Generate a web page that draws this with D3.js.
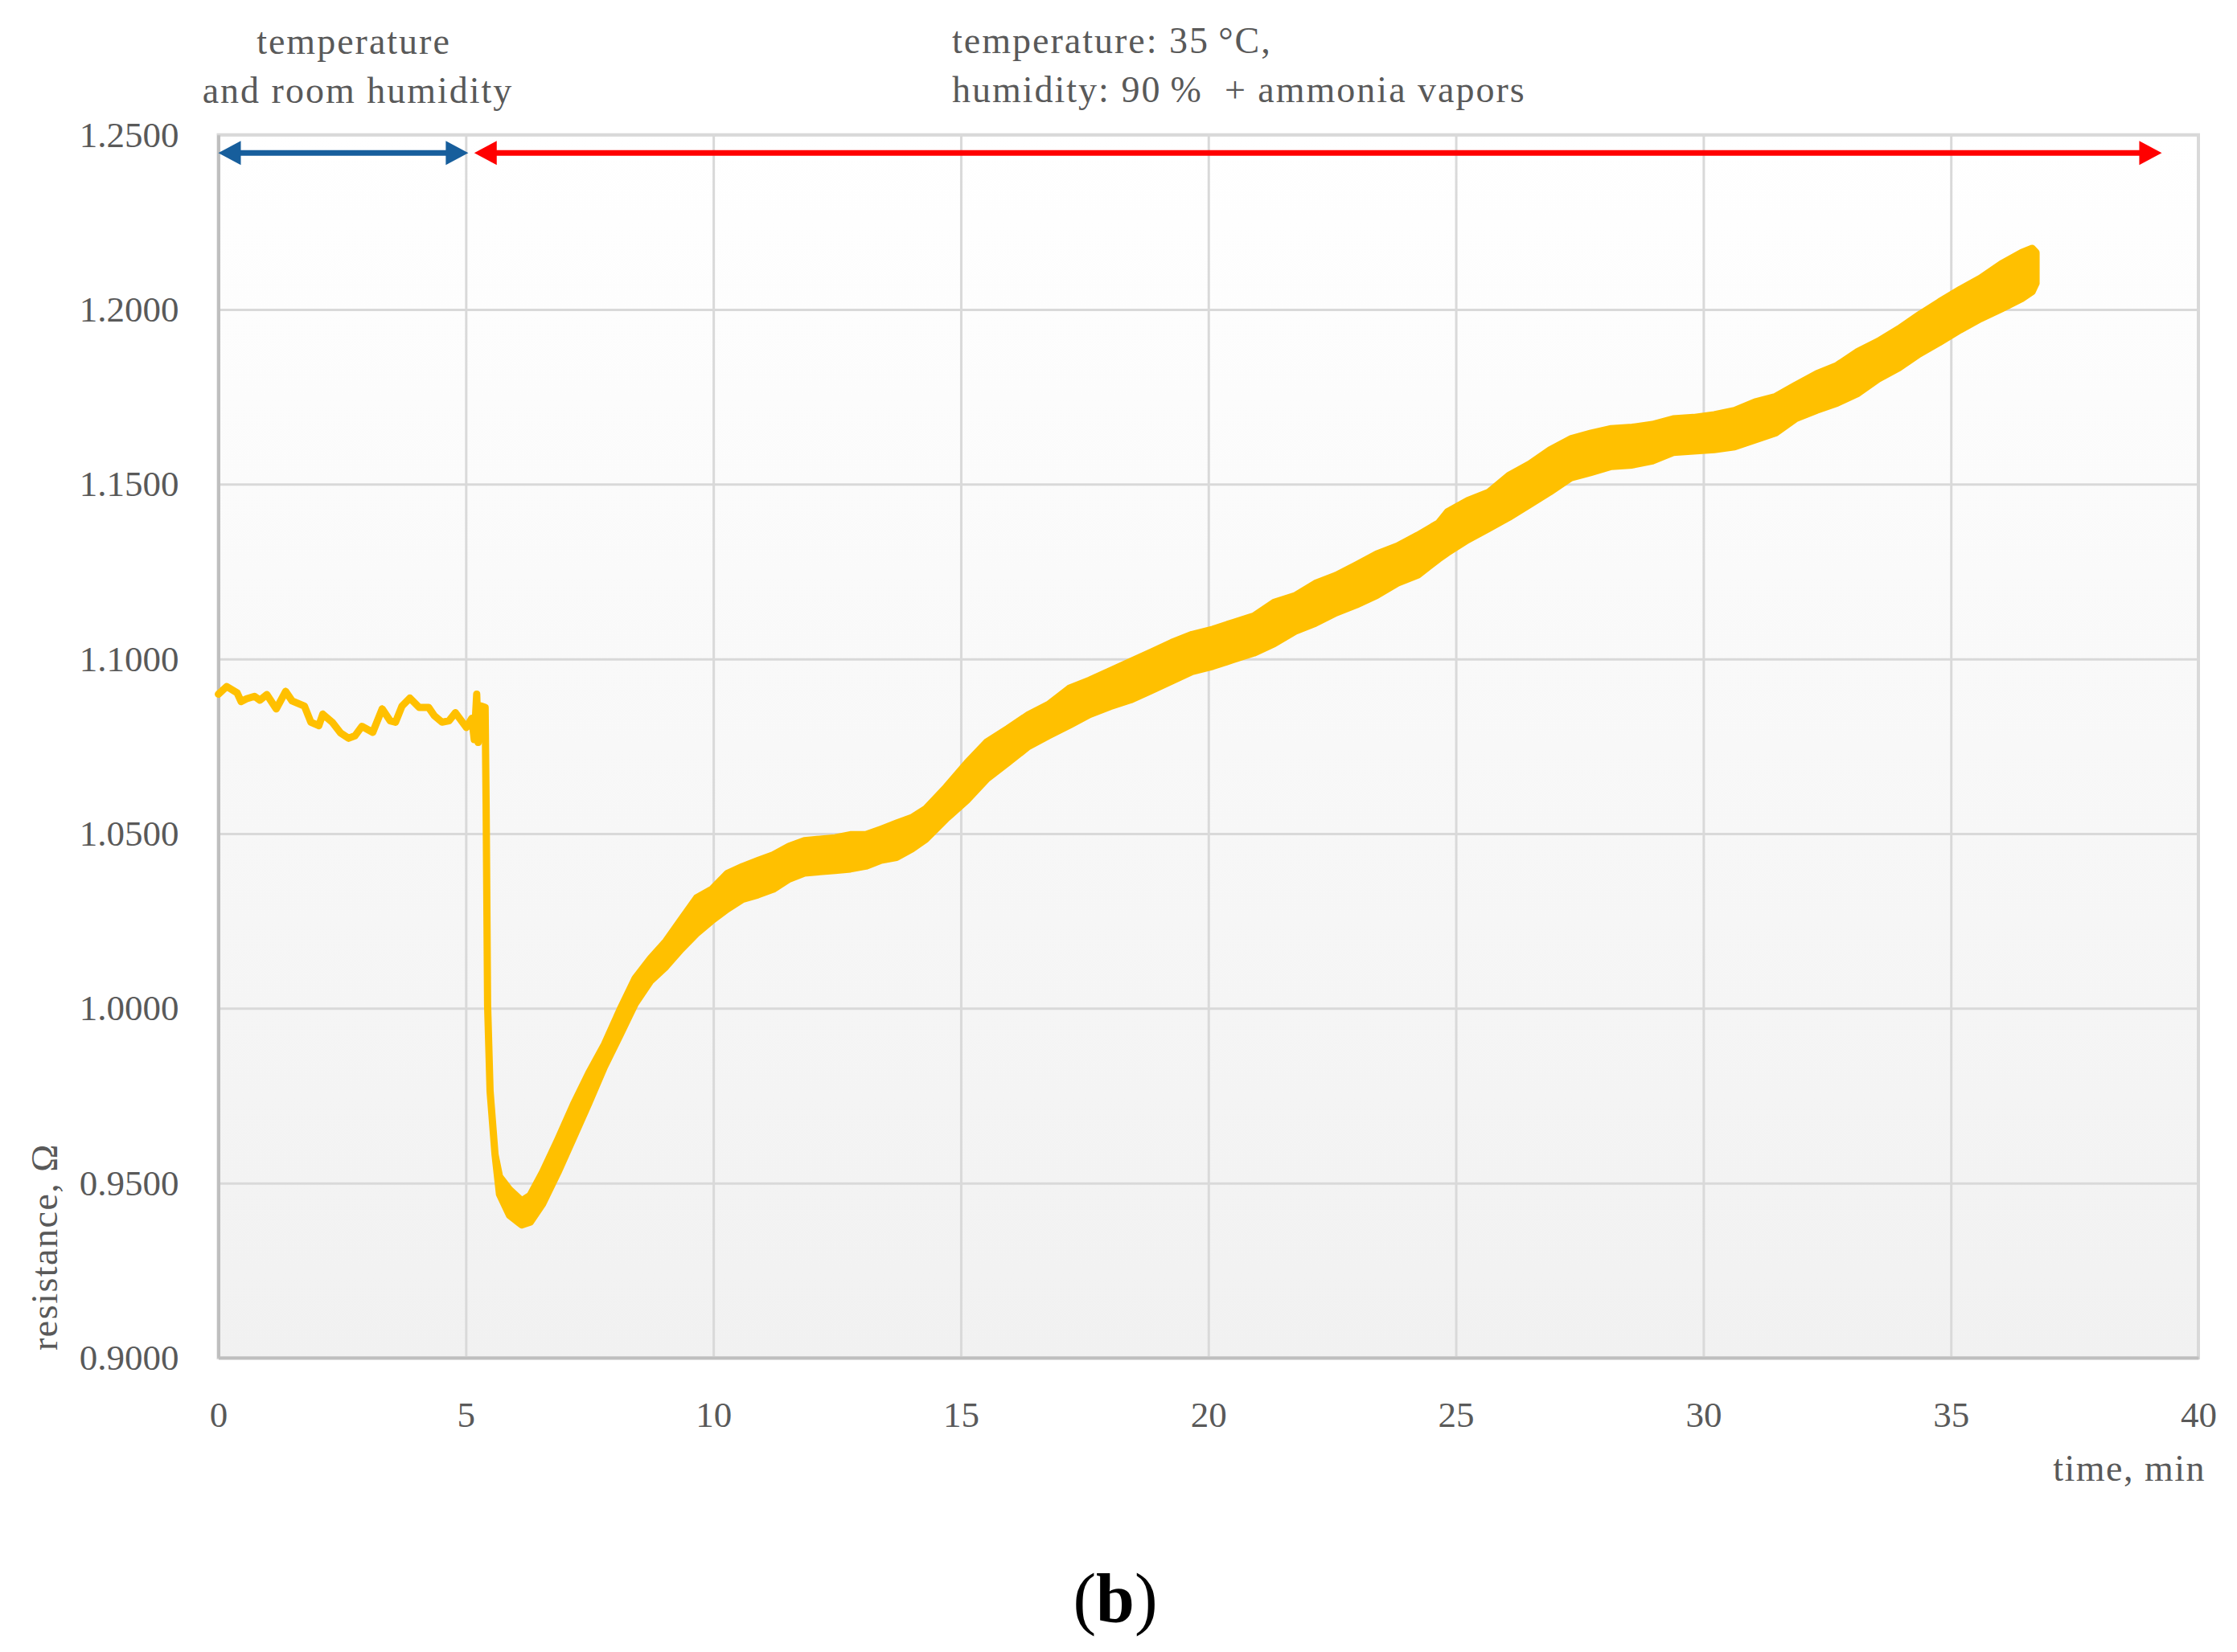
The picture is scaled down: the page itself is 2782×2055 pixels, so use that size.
<!DOCTYPE html>
<html>
<head>
<meta charset="utf-8">
<script src="https://cdn.jsdelivr.net/npm/d3@7/dist/d3.min.js"></script>
<style>
  body { margin: 0; background: #fff; }
  svg text { font-family: "Liberation Serif", "Times New Roman", serif; fill: #595959; }
</style>
</head>
<body>
<div id="chart"></div>
<script>
// axis ticks
const xTicks = [0, 5, 10, 15, 20, 25, 30, 35, 40];
const yTicks = [0.90, 0.95, 1.00, 1.05, 1.10, 1.15, 1.20, 1.25];

// resistance trace: time (min), lower and upper edge of the noisy band (ohm)
const timeMin = [
  0.00, 0.17, 0.38, 0.46, 0.57, 0.73, 0.84, 0.98, 1.17, 1.36, 1.49, 1.74, 1.87, 2.03, 2.11, 2.30,
  2.47, 2.63, 2.76, 2.90, 3.12, 3.31, 3.47, 3.58, 3.71, 3.87, 4.06, 4.25, 4.36, 4.52, 4.66, 4.79,
  5.01, 5.12, 5.17, 5.22, 5.25, 5.31, 5.39, 5.41, 5.44, 5.49, 5.59,
  5.68, 5.88, 6.13, 6.30, 6.55, 6.86, 7.17, 7.48, 7.80, 8.11, 8.42, 8.73, 9.04, 9.35, 9.66, 9.97,
  10.28, 10.59, 10.90, 11.21, 11.53, 11.84, 12.15, 12.46, 12.77, 13.08, 13.39, 13.70, 14.01, 14.29,
  14.70, 15.12, 15.53, 15.95, 16.36, 16.77, 17.19, 17.60, 18.02, 18.43, 18.85, 19.26, 19.67, 20.09,
  20.50, 20.92, 21.33, 21.75, 22.16, 22.58, 22.99, 23.40, 23.82, 24.23, 24.65, 24.83, 25.24, 25.66,
  26.07, 26.49, 26.90, 27.32, 27.73, 28.14, 28.56, 28.97, 29.39, 29.80, 30.22, 30.63, 31.04, 31.46,
  31.87, 32.29, 32.70, 33.12, 33.53, 33.95, 34.36, 34.77, 35.19, 35.60, 36.02, 36.43, 36.64, 36.72
];
const resLow = [
  1.0899, 1.0921, 1.0903, 1.0878, 1.0886, 1.0893, 1.0882, 1.0898, 1.0857, 1.0907, 1.0880, 1.0865, 1.0819, 1.0809, 1.0842, 1.0819,
  1.0788, 1.0773, 1.0780, 1.0807, 1.0790, 1.0857, 1.0823, 1.0819, 1.0865, 1.0888, 1.0861, 1.0861, 1.0838, 1.0819, 1.0823, 1.0846,
  1.0804, 1.0830, 1.0769, 1.0899, 1.0761, 1.0865, 1.0861, 1.0585, 1.0009, 0.9763, 0.9582,
  0.9468, 0.9408, 0.9380, 0.9388, 0.9440, 0.9530, 0.9628, 0.9727, 0.9833, 0.9922, 1.0013, 1.0078, 1.0119, 1.0169, 1.0214, 1.0251,
  1.0284, 1.0312, 1.0325, 1.0341, 1.0370, 1.0387, 1.0391, 1.0395, 1.0399, 1.0407, 1.0424, 1.0432, 1.0456, 1.0484,
  1.0542, 1.0595, 1.0657, 1.0703, 1.0749, 1.0780, 1.0810, 1.0841, 1.0864, 1.0883, 1.0910, 1.0937, 1.0964, 1.0979,
  1.0998, 1.1017, 1.1044, 1.1079, 1.1102, 1.1132, 1.1155, 1.1182, 1.1217, 1.1240, 1.1286, 1.1304, 1.1341, 1.1373,
  1.1405, 1.1442, 1.1478, 1.1518, 1.1534, 1.1551, 1.1555, 1.1567, 1.1591, 1.1595, 1.1599, 1.1607, 1.1627, 1.1647,
  1.1688, 1.1712, 1.1732, 1.1760, 1.1801, 1.1833, 1.1873, 1.1906, 1.1942, 1.1974, 1.2002, 1.2031, 1.2051, 1.2075
];
const resHigh = [
  1.0899, 1.0921, 1.0903, 1.0878, 1.0886, 1.0893, 1.0882, 1.0898, 1.0857, 1.0907, 1.0880, 1.0865, 1.0819, 1.0809, 1.0842, 1.0819,
  1.0788, 1.0773, 1.0780, 1.0807, 1.0790, 1.0857, 1.0823, 1.0819, 1.0865, 1.0888, 1.0861, 1.0861, 1.0838, 1.0819, 1.0823, 1.0846,
  1.0804, 1.0830, 1.0769, 1.0899, 1.0761, 1.0865, 1.0861, 1.0585, 1.0009, 0.9763, 0.9582,
  0.9519, 0.9482, 0.9449, 0.9465, 0.9531, 0.9625, 0.9724, 0.9814, 0.9897, 0.9995, 1.0086, 1.0143, 1.0192, 1.0254, 1.0316, 1.0341,
  1.0386, 1.0406, 1.0423, 1.0439, 1.0464, 1.0480, 1.0484, 1.0488, 1.0497, 1.0497, 1.0513, 1.0530, 1.0546, 1.0571,
  1.0633, 1.0702, 1.0763, 1.0801, 1.0840, 1.0870, 1.0916, 1.0939, 1.0966, 1.0993, 1.1020, 1.1047, 1.1070, 1.1085,
  1.1104, 1.1123, 1.1162, 1.1181, 1.1216, 1.1239, 1.1269, 1.1300, 1.1323, 1.1354, 1.1389, 1.1421, 1.1453, 1.1477,
  1.1525, 1.1558, 1.1598, 1.1630, 1.1646, 1.1659, 1.1663, 1.1671, 1.1687, 1.1691, 1.1699, 1.1711, 1.1735, 1.1751,
  1.1784, 1.1816, 1.1840, 1.1880, 1.1909, 1.1945, 1.1985, 1.2022, 1.2058, 1.2090, 1.2131, 1.2163, 1.2175, 1.2163
];

// phase arrows above the trace: start/end time and level
const phaseStart = [0, 5.17];
const phaseEnd = [5.05, 39.26];
const phaseLevel = [1.2448, 1.2448];
const phaseColor = ["#175e9c", "#ff0000"];

const W = 2782, H = 2055;
const margin = {top: 167.7, right: 48, bottom: 366, left: 271.5};
const width = W - margin.left - margin.right;
const height = H - margin.top - margin.bottom;

const svg = d3.select('#chart').append('svg')
  .attr('width', W)
  .attr('height', H);

const defs = svg.append('defs');
const grad = defs.append('linearGradient')
  .attr('id', 'bg').attr('x1', 0).attr('y1', 0).attr('x2', 0).attr('y2', 1);
grad.append('stop').attr('offset', '0%').attr('stop-color', '#ffffff');
grad.append('stop').attr('offset', '100%').attr('stop-color', '#f1f1f1');

const g = svg.append('g')
  .attr('transform', 'translate(' + margin.left + ',' + margin.top + ')');

let x = d3.scaleLinear().domain([0, 40]).range([0, width]);
let y = d3.scaleLinear().domain([0.9, 1.25]).range([height, 0]);

// plot background
g.append('rect')
  .attr('width', width).attr('height', height)
  .attr('fill', 'url(#bg)')
  .attr('stroke', '#d9d9d9').attr('stroke-width', 4);

// gridlines
g.append('g')
  .attr('class', 'grid')
  .call(d3.axisLeft(y).tickValues(yTicks).tickSize(-width).tickFormat(''))
  .call(s => s.select('.domain').remove())
  .selectAll('line').attr('stroke', '#d9d9d9').attr('stroke-width', 3);
g.append('g')
  .attr('class', 'grid')
  .attr('transform', 'translate(0,' + height + ')')
  .call(d3.axisBottom(x).tickValues(xTicks).tickSize(-height).tickFormat(''))
  .call(s => s.select('.domain').remove())
  .selectAll('line').attr('stroke', '#d9d9d9').attr('stroke-width', 3);

// axes
const yAxis = g.append('g')
  .call(d3.axisLeft(y).tickValues(yTicks).tickFormat(d3.format('.4f')).tickSize(0).tickPadding(49));
yAxis.select('.domain').attr('stroke', '#bfbfbf').attr('stroke-width', 4);
yAxis.selectAll('text')
  .attr('font-size', 45).attr('fill', '#595959')
  .style('font-family', '"Liberation Serif", serif');

const xAxis = g.append('g')
  .attr('transform', 'translate(0,' + height + ')')
  .call(d3.axisBottom(x).tickValues(xTicks).tickSize(0).tickPadding(54));
xAxis.select('.domain').attr('stroke', '#bfbfbf').attr('stroke-width', 4);
xAxis.selectAll('text')
  .attr('font-size', 45).attr('fill', '#595959')
  .style('font-family', '"Liberation Serif", serif');

// resistance band
const data = timeMin.map((t, i) => ({t: t, lo: resLow[i], hi: resHigh[i]}));
const band = d3.area()
  .x(d => x(d.t))
  .y0(d => y(d.lo))
  .y1(d => y(d.hi));
g.append('path')
  .datum(data)
  .attr('d', band)
  .attr('fill', '#ffc000')
  .attr('stroke', '#ffc000')
  .attr('stroke-width', 9)
  .attr('stroke-linejoin', 'round');

// phase arrows
const head = 28;
phaseStart.forEach((s, i) => {
  const x1 = x(s), x2 = x(phaseEnd[i]), yy = y(phaseLevel[i]);
  const a = g.append('g').attr('fill', phaseColor[i]);
  a.append('line')
    .attr('x1', x1 + head - 2).attr('x2', x2 - head + 2)
    .attr('y1', yy).attr('y2', yy)
    .attr('stroke', phaseColor[i]).attr('stroke-width', 7);
  a.append('path').attr('d', `M${x1},${yy}L${x1 + head},${yy - 15}L${x1 + head},${yy + 15}Z`);
  a.append('path').attr('d', `M${x2},${yy}L${x2 - head},${yy - 15}L${x2 - head},${yy + 15}Z`);
});

// annotations
const note = svg.append('g')
  .attr('font-size', 46)
  .style('letter-spacing', '2px');
note.append('text').attr('x', 440).attr('y', 67).attr('text-anchor', 'middle').text('temperature');
note.append('text').attr('x', 445).attr('y', 128).attr('text-anchor', 'middle').text('and room humidity');
note.append('text').attr('x', 1184).attr('y', 66).text('temperature: 35\u2009°C,');
note.append('text').attr('x', 1184).attr('y', 127)
  .attr('xml:space', 'preserve').style('white-space', 'pre')
  .text('humidity: 90\u2009%  + ammonia vapors');

// axis titles
svg.append('text')
  .attr('transform', 'translate(71,1680) rotate(-90)')
  .attr('font-size', 46)
  .style('letter-spacing', '1.5px')
  .text('resistance, Ω');
svg.append('text')
  .attr('x', 2743).attr('y', 1842)
  .attr('text-anchor', 'end')
  .attr('font-size', 46)
  .style('letter-spacing', '1.5px')
  .text('time, min');

// panel label
const lab = svg.append('text')
  .attr('x', 1387).attr('y', 2017)
  .attr('text-anchor', 'middle')
  .attr('font-size', 86)
  .style('fill', '#000');
lab.append('tspan').text('(');
lab.append('tspan').attr('font-weight', 'bold').text('b');
lab.append('tspan').text(')');
</script>
</body>
</html>
